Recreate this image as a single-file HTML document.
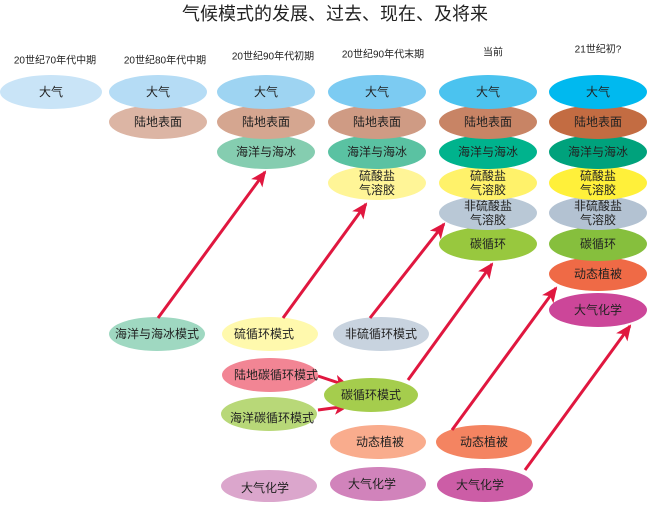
<!DOCTYPE html>
<html><head><meta charset="utf-8"><style>
body{margin:0;background:#fff}
svg text{font-family:"Liberation Sans","Noto Sans CJK SC",sans-serif;fill:#222;text-anchor:middle;dominant-baseline:central}
</style></head><body>
<svg width="670" height="502" viewBox="0 0 670 502" xmlns="http://www.w3.org/2000/svg">
<defs><marker id="a" markerWidth="8" markerHeight="8" refX="6" refY="4" orient="auto" markerUnits="userSpaceOnUse" viewBox="0 0 8 8"><path d="M0,0 L8,4 L0,8 L2,4z" fill="#e0173f"/></marker>
<marker id="b" markerWidth="16" markerHeight="14" refX="14" refY="7" orient="auto" markerUnits="userSpaceOnUse"><path d="M0,0 L16,7 L0,14 L4,7z" fill="#e0173f"/></marker></defs>
<text x="335" y="14" font-size="18">气候模式的发展、过去、现在、及将来</text>
<g font-size="10">
<text x="55" y="61">20世纪70年代中期</text><text x="165" y="61">20世纪80年代中期</text><text x="273" y="57">20世纪90年代初期</text><text x="383" y="55">20世纪90年代末期</text><text x="493" y="53">当前</text><text x="598" y="50">21世纪初?</text>
</g>
<g font-size="12">
<ellipse cx="51" cy="92" rx="51" ry="17" fill="#c9e4f7"/><text x="51" y="92">大气</text>
<ellipse cx="158" cy="122" rx="49" ry="17" fill="#dcb5a4"/><text x="158" y="122">陆地表面</text>
<ellipse cx="158" cy="92" rx="49" ry="17" fill="#b5dcf5"/><text x="158" y="92">大气</text>
<ellipse cx="266" cy="152" rx="49" ry="17" fill="#85cdb0"/><text x="266" y="152">海洋与海冰</text>
<ellipse cx="266" cy="122" rx="49" ry="17" fill="#d5a690"/><text x="266" y="122">陆地表面</text>
<ellipse cx="266" cy="92" rx="49" ry="17" fill="#9ed4f2"/><text x="266" y="92">大气</text>
<ellipse cx="377" cy="183" rx="49" ry="17" fill="#fff597"/><text x="377" y="176">硫酸盐</text><text x="377" y="190">气溶胶</text>
<ellipse cx="377" cy="152" rx="49" ry="17" fill="#5ac2a2"/><text x="377" y="152">海洋与海冰</text>
<ellipse cx="377" cy="122" rx="49" ry="17" fill="#cf9b84"/><text x="377" y="122">陆地表面</text>
<ellipse cx="377" cy="92" rx="49" ry="17" fill="#7ccbf2"/><text x="377" y="92">大气</text>
<ellipse cx="488" cy="244" rx="49" ry="17" fill="#98c83e"/><text x="488" y="244">碳循环</text>
<ellipse cx="488" cy="213" rx="49" ry="17" fill="#b9c8d6"/><text x="488" y="206">非硫酸盐</text><text x="488" y="220">气溶胶</text>
<ellipse cx="488" cy="183" rx="49" ry="17" fill="#fff26a"/><text x="488" y="176">硫酸盐</text><text x="488" y="190">气溶胶</text>
<ellipse cx="488" cy="152" rx="49" ry="17" fill="#00b38d"/><text x="488" y="152">海洋与海冰</text>
<ellipse cx="488" cy="122" rx="49" ry="17" fill="#c88465"/><text x="488" y="122">陆地表面</text>
<ellipse cx="488" cy="92" rx="49" ry="17" fill="#4bc3ef"/><text x="488" y="92">大气</text>
<ellipse cx="598" cy="310" rx="49" ry="17" fill="#cc4699"/><text x="598" y="310">大气化学</text>
<ellipse cx="598" cy="274" rx="49" ry="17" fill="#ef6a46"/><text x="598" y="274">动态植被</text>
<ellipse cx="598" cy="244" rx="49" ry="17" fill="#86bf3d"/><text x="598" y="244">碳循环</text>
<ellipse cx="598" cy="213" rx="49" ry="17" fill="#b3c2d2"/><text x="598" y="206">非硫酸盐</text><text x="598" y="220">气溶胶</text>
<ellipse cx="598" cy="183" rx="49" ry="17" fill="#fff03a"/><text x="598" y="176">硫酸盐</text><text x="598" y="190">气溶胶</text>
<ellipse cx="598" cy="152" rx="49" ry="17" fill="#00a27c"/><text x="598" y="152">海洋与海冰</text>
<ellipse cx="598" cy="122" rx="49" ry="17" fill="#c36c42"/><text x="598" y="122">陆地表面</text>
<ellipse cx="598" cy="92" rx="49" ry="17" fill="#00b9ef"/><text x="598" y="92">大气</text>

<ellipse cx="157" cy="334" rx="48" ry="17" fill="#9fd8c1"/><text x="157" y="334">海洋与海冰模式</text>
<ellipse cx="270" cy="334" rx="48" ry="17" fill="#fff9ad"/><text x="264" y="334">硫循环模式</text>
<ellipse cx="381" cy="334" rx="48" ry="17" fill="#c8d3df"/><text x="381" y="334">非硫循环模式</text>
<ellipse cx="270" cy="375" rx="48" ry="17" fill="#f28594"/><text x="276" y="375">陆地碳循环模式</text>
<ellipse cx="269" cy="414" rx="48" ry="17" fill="#b8d878"/><text x="272" y="418">海洋碳循环模式</text>
<ellipse cx="378" cy="442" rx="48" ry="17" fill="#f9ac8d"/><text x="380" y="442">动态植被</text>
<ellipse cx="484" cy="442" rx="48" ry="17" fill="#f48461"/><text x="484" y="442">动态植被</text>
<ellipse cx="269" cy="486" rx="48" ry="16" fill="#dba6cc"/><text x="265" y="488">大气化学</text>
<ellipse cx="378" cy="484" rx="48" ry="17" fill="#d183bb"/><text x="372" y="484">大气化学</text>
<ellipse cx="485" cy="485" rx="48" ry="17" fill="#cc5da6"/><text x="480" y="485">大气化学</text>
</g>
<g stroke="#e0173f" stroke-width="3" fill="none" marker-end="url(#b)">
<line x1="158" y1="318" x2="265" y2="172"/>
<line x1="283" y1="318" x2="366" y2="204"/>
<line x1="370" y1="318" x2="444" y2="224"/>
<line x1="408" y1="380" x2="492" y2="264"/>
<line x1="452" y1="430" x2="556" y2="288"/>
<line x1="525" y1="470" x2="630" y2="326"/>
<line x1="318" y1="376" x2="348" y2="386"/>
<line x1="318" y1="410" x2="348" y2="406"/>
</g>
<ellipse cx="371" cy="395" rx="47" ry="17" fill="#a5cd4d"/><text x="371" y="395" font-size="12">碳循环模式</text>
</svg>
</body></html>
